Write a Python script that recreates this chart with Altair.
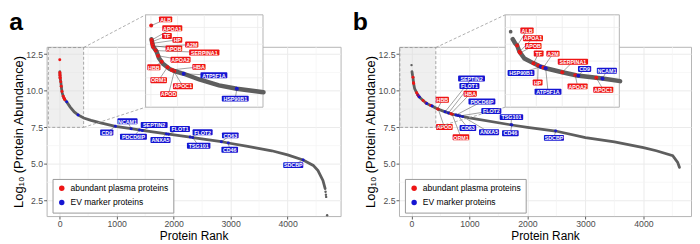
import altair as alt
import pandas as pd

FONT = "Liberation Sans"
RED = "#ee1515"
BLUE = "#1515d2"
CURVE_COLOR = "#5e5e5e"
TYPE_NAMES = {"P": "abundant plasma proteins", "E": "EV marker proteins"}
TYPE_ORDER = ["abundant plasma proteins", "EV marker proteins"]
Y_TITLE = "Log\u2081\u2080 (Protein Abundance)"

X_TICKS = [0, 1000, 2000, 3000, 4000]
X_MINOR = [500, 1500, 2500, 3500, 4500]
Y_TICKS = [2.5, 5.0, 7.5, 10.0, 12.5]
Y_MINOR = [3.75, 6.25, 8.75, 11.25]
INSET_X_GRID = [0, 100, 200, 300, 400]
INSET_Y_GRID = [8, 9, 10, 11, 12]

# ---------------- panel a ----------------
A_CURVE_RANK = [2, 8, 21, 30, 45, 70, 89, 123, 181, 255, 322, 422, 550, 700, 977, 1254, 1450, 1600,
                1913, 2290, 2335, 2838, 2959, 3300, 3722, 4000, 4272, 4450, 4533, 4620, 4659]
A_CURVE_VALUE = [11.30, 10.86, 10.57, 10.18, 9.84, 9.53, 9.39, 9.24, 8.90, 8.55, 8.35, 8.14, 7.98, 7.82,
                 7.57, 7.41, 7.29, 7.20, 7.03, 6.84, 6.80, 6.52, 6.43, 6.20, 5.90, 5.62, 5.27, 4.90,
                 4.55, 3.87, 3.31]
A_LONE_RANK = [4666, 4672, 4677, 4694]
A_LONE_VALUE = [3.10, 2.90, 2.75, 1.50]

A_PROT = ["ALB", "APOA1", "TF", "HP", "APOB", "A2M", "SERPINA1", "APOA2", "HBB", "ORM1", "HBA", "APOC1",
          "APOD", "ATP5F1A", "HSP90B1", "CD9", "NCAM1", "PDCD6IP", "SEPTIN2", "ANXA5", "FLOT1", "FLOT2",
          "TSG101", "CD63", "CD46", "SDCBP"]
A_TYPE = ["P", "P", "P", "P", "P", "P", "P", "P", "P", "P", "P", "P", "P",
          "E", "E", "E", "E", "E", "E", "E", "E", "E", "E", "E", "E", "E"]
A_RANK = [1, 3, 4, 5, 7, 9, 18, 27, 40, 62, 78, 84, 88, 123, 322, 977, 1254, 1400, 1450, 1870, 1910,
          2290, 2335, 2838, 2959, 4272]
A_VALUE = [12.11, 11.25, 11.15, 11.05, 10.92, 10.84, 10.62, 10.31, 9.95, 9.63, 9.47, 9.43, 9.40, 9.24,
           8.35, 7.57, 7.41, 7.32, 7.29, 7.05, 7.03, 6.84, 6.80, 6.52, 6.43, 5.27]

A_MAIN_LABEL = ["CD9", "NCAM1", "PDCD6IP", "SEPTIN2", "ANXA5", "FLOT1", "FLOT2", "TSG101", "CD63", "CD46", "SDCBP"]
A_MAIN_LX = [826, 1190, 1294, 1658, 1769, 2110, 2508, 2439, 2994, 2984, 4099]
A_MAIN_LY = [7.15, 7.91, 6.86, 7.66, 6.63, 7.39, 7.16, 6.24, 6.95, 5.97, 4.92]

A_INSET_LABEL = ["ALB", "APOA1", "TF", "HP", "APOB", "A2M", "SERPINA1", "APOA2", "HBB", "HBA", "ORM1",
                 "APOC1", "APOD", "ATP5F1A", "HSP90B1"]
A_INSET_LX = [55, 80, 60, 99, 86, 153, 200, 111, 11, 180, 29, 120, 66, 236, 316]
A_INSET_LY = [12.48, 11.95, 11.49, 11.26, 10.75, 10.98, 10.51, 10.08, 9.63, 9.65, 8.86, 8.50, 8.03, 9.15, 7.76]

# ---------------- panel b ----------------
B_CURVE_RANK = [9, 18, 26, 35, 54, 90, 117, 136, 200, 257, 331, 355, 423, 580, 700, 882, 1000, 1730,
                2000, 2486, 3000, 3500, 4000, 4222, 4505, 4590, 4620]
B_CURVE_VALUE = [11.30, 11.06, 10.92, 10.55, 10.15, 9.86, 9.66, 9.57, 9.33, 9.14, 9.00, 8.96, 8.80, 8.56,
                 8.40, 8.24, 8.15, 7.66, 7.50, 7.25, 6.80, 6.50, 6.12, 5.90, 5.56, 5.11, 4.77]
B_LONE_RANK = [1]
B_LONE_VALUE = [11.75]

B_PROT = ["ALB", "APOA1", "APOB", "TF", "HP", "HSP90B1", "A2M", "ATP5F1A", "SERPINA1", "APOA2", "CD9",
          "APOC1", "NCAM1", "HBB", "APOD", "SEPTIN2", "FLOT1", "HBA", "ORM1", "PDCD6IP", "CD63", "FLOT2",
          "ANXA5", "TSG101", "CD46", "SDCBP"]
B_TYPE = ["P", "P", "P", "P", "P", "E", "P", "E", "P", "P", "E", "P", "E", "P", "P", "E", "E", "P", "P",
          "E", "E", "E", "E", "E", "E", "E"]
B_RANK = [26, 35, 38, 89, 107, 117, 127, 136, 200, 250, 262, 331, 355, 450, 462, 580, 638, 680, 700, 768,
          800, 836, 882, 1718, 1730, 2486]
B_VALUE = [10.92, 10.55, 10.49, 9.87, 9.73, 9.66, 9.61, 9.57, 9.33, 9.16, 9.13, 9.00, 8.96, 8.76, 8.74,
           8.56, 8.48, 8.43, 8.40, 8.34, 8.31, 8.28, 8.24, 7.67, 7.66, 7.25]

B_MAIN_LABEL = ["SEPTIN2", "FLOT1", "HBA", "HBB", "PDCD6IP", "FLOT2", "APOD", "CD63", "ORM1", "ANXA5",
                "TSG101", "CD46", "SDCBP"]
B_MAIN_LX = [1036, 999, 1013, 532, 1215, 1377, 567, 973, 853, 1338, 1724, 1705, 2457]
B_MAIN_LY = [10.83, 10.32, 9.80, 9.38, 9.26, 8.62, 7.52, 7.45, 6.82, 7.17, 8.20, 7.10, 6.78]

B_INSET_LABEL = ["ALB", "APOA1", "APOB", "TF", "A2M", "HSP90B1", "HP", "ATP5F1A", "SERPINA1", "CD9",
                 "APOA2", "NCAM1", "APOC1"]
B_INSET_LX = [64, 87, 88, 109, 164, 41, 105, 145, 241, 286, 259, 372, 358]
B_INSET_LY = [11.82, 11.36, 10.89, 10.45, 10.44, 9.29, 8.72, 8.17, 9.96, 9.53, 8.49, 9.42, 8.29]

# zoom window (data units) and inset domain
ZOOM_X = [-200, 420]
ZOOM_Y = [7.5, 12.95]
INSET_XDOM = [-20, 420]
INSET_YDOM = [7.25, 12.75]

CSCALE = alt.Scale(domain=TYPE_ORDER, range=[RED, BLUE])

AX_X = alt.Axis(values=X_TICKS, grid=True, gridColor="#ebebeb", domain=False, tickSize=3,
                tickColor="#333333", tickWidth=0.8, labelColor="#4d4d4d", labelFont=FONT,
                labelFontSize=8.8, labelPadding=0.5, titleFont=FONT, titleFontSize=12,
                titleFontWeight="normal", titleColor="black", titlePadding=2.5, format="d")
AX_Y = alt.Axis(values=Y_TICKS, grid=True, gridColor="#ebebeb", domain=False, tickSize=3,
                tickColor="#333333", tickWidth=0.8, labelColor="#4d4d4d", labelFont=FONT,
                labelFontSize=8.8, labelPadding=1, titleFont=FONT, titleFontSize=13,
                titleFontWeight="normal", titleColor="black", titlePadding=0.5, format=".1f")

LABEL_CHAR_W = 3.45
LABEL_PAD_W = 3.0
LABEL_HALF_H = 3.0


def label_layers(lab, XF, YF, kx, ky):
    hw = f"(length(datum.name)*{LABEL_CHAR_W}+{LABEL_PAD_W})/2"
    base = alt.Chart(lab)
    leaders = base.mark_rule(color="#444444", strokeWidth=0.5).encode(
        x=XF("rank"), y=YF("value"), x2=alt.X2("lx:Q"), y2=alt.Y2("ly:Q"))
    rects = base.transform_calculate(
        bx1=f"datum.lx - {hw}*{kx}", bx2=f"datum.lx + {hw}*{kx}",
        by1=f"datum.ly - {LABEL_HALF_H}*{ky}", by2=f"datum.ly + {LABEL_HALF_H}*{ky}",
    ).mark_rect(cornerRadius=0.8).encode(
        x=XF("bx1"), x2=alt.X2("bx2:Q"), y=YF("by1"), y2=alt.Y2("by2:Q"),
        fill=alt.Fill("type:N", scale=CSCALE, legend=None))
    texts = base.mark_text(color="white", fontSize=5.4, fontWeight="bold", font=FONT,
                           align="center", baseline="middle", dy=0.3).encode(
        x=XF("lx"), y=YF("ly"), text="name:N")
    return [leaders, rects, texts]


def make_panel(cfg):
    W, H = cfg["W"], cfg["H"]
    xd, yd = cfg["xdom"], cfg["ydom"]
    ipx, ipy = cfg["ipx"], cfg["ipy"]
    sx = alt.Scale(domain=xd, nice=False, zero=False)
    sy = alt.Scale(domain=yd, nice=False, zero=False)
    sxi = alt.Scale(domain=INSET_XDOM, range=ipx, nice=False, zero=False)
    syi = alt.Scale(domain=INSET_YDOM, range=ipy, nice=False, zero=False)
    kx = (xd[1] - xd[0]) / W
    ky = (yd[1] - yd[0]) / H
    kxi = (INSET_XDOM[1] - INSET_XDOM[0]) / (ipx[1] - ipx[0])
    kyi = (INSET_YDOM[1] - INSET_YDOM[0]) / (ipy[0] - ipy[1])

    def MX(f):
        return alt.X(f, type="quantitative", scale=sx, axis=AX_X, title="Protein Rank")

    def MY(f):
        return alt.Y(f, type="quantitative", scale=sy, axis=AX_Y, title=Y_TITLE)

    def IX(f):
        return alt.X(f, type="quantitative", scale=sxi, axis=None)

    def IY(f):
        return alt.Y(f, type="quantitative", scale=syi, axis=None)

    pts = pd.DataFrame({"name": cfg["prot"], "type": [TYPE_NAMES[t] for t in cfg["ptype"]],
                        "rank": cfg["rank"], "value": cfg["value"]})
    curve = pd.DataFrame({"rank": cfg["crank"], "value": cfg["cvalue"]})
    lone = pd.DataFrame({"rank": cfg["lrank"], "value": cfg["lvalue"]})
    lab_main = pd.DataFrame({"name": cfg["ml"], "lx": cfg["mlx"], "ly": cfg["mly"]}).merge(pts, on="name")
    lab_inset = pd.DataFrame({"name": cfg["il"], "lx": cfg["ilx"], "ly": cfg["ily"]}).merge(pts, on="name")
    inset_max = f"datum.rank <= {INSET_XDOM[1] + 5}"

    zoom = pd.DataFrame({"x1": [ZOOM_X[0]], "x2": [ZOOM_X[1]], "y1": [ZOOM_Y[0]], "y2": [ZOOM_Y[1]]})
    corner = pd.DataFrame({"x": [ZOOM_X[1]], "ytop": [ZOOM_Y[1]], "ybot": [ZOOM_Y[0]]})

    main_layers = [
        alt.Chart(pd.DataFrame({"gx": X_MINOR})).mark_rule(color="#f4f4f4", strokeWidth=0.7).encode(x=MX("gx")),
        alt.Chart(pd.DataFrame({"gy": Y_MINOR})).mark_rule(color="#f4f4f4", strokeWidth=0.7).encode(y=MY("gy")),
        alt.Chart(zoom).mark_rect(fill="#dcdcdc", fillOpacity=0.45, stroke="#909090", strokeDash=[3, 2],
                                  strokeWidth=0.8).encode(x=MX("x1"), x2=alt.X2("x2:Q"), y=MY("y1"), y2=alt.Y2("y2:Q")),
        alt.Chart(curve).mark_line(color=CURVE_COLOR, strokeWidth=2.8, strokeCap="round").encode(x=MX("rank"), y=MY("value")),
        alt.Chart(lone).mark_circle(color=CURVE_COLOR, size=6, opacity=1).encode(x=MX("rank"), y=MY("value")),
        alt.Chart(pts).mark_circle(size=9, opacity=1).encode(
            x=MX("rank"), y=MY("value"),
            color=alt.Color("type:N", scale=CSCALE, legend=alt.Legend(
                orient="none", legendX=6, legendY=133.5, title=None, direction="vertical",
                fillColor="white", strokeColor="#9a9a9a", padding=5, labelFont=FONT,
                labelFontSize=8.6, labelColor="black", symbolType="circle", symbolSize=30,
                symbolStrokeWidth=0, rowPadding=5.5, labelOffset=4.5, symbolOpacity=1))),
    ]
    main_layers += label_layers(lab_main, MX, MY, kx, ky)
    main_layers += [
        alt.Chart(corner).mark_rule(color="#9a9a9a", strokeDash=[3, 2], strokeWidth=0.8).encode(
            x=MX("x"), y=MY("ytop"), x2=alt.value(ipx[0]), y2=alt.value(ipy[1])),
        alt.Chart(corner).mark_rule(color="#9a9a9a", strokeDash=[3, 2], strokeWidth=0.8).encode(
            x=MX("x"), y=MY("ybot"), x2=alt.value(ipx[0]), y2=alt.value(ipy[0])),
        alt.Chart(pd.DataFrame({"t": [cfg["letter"]]})).mark_text(
            fontSize=25, fontWeight="bold", font=FONT, align="left", baseline="alphabetic", color="black"
        ).encode(text="t:N", x=alt.value(cfg["letter_x"]), y=alt.value(-17)),
    ]

    ibox = pd.DataFrame({"x1": [INSET_XDOM[0]], "x2": [INSET_XDOM[1]], "y1": [INSET_YDOM[0]], "y2": [INSET_YDOM[1]]})
    igx = pd.DataFrame({"gx": INSET_X_GRID, "y1": INSET_YDOM[0], "y2": INSET_YDOM[1]})
    igy = pd.DataFrame({"gy": INSET_Y_GRID, "x1": INSET_XDOM[0], "x2": INSET_XDOM[1]})
    inset_layers = [
        alt.Chart(ibox).mark_rect(fill="white", stroke="#b3b3b3", strokeWidth=1).encode(
            x=IX("x1"), x2=alt.X2("x2:Q"), y=IY("y1"), y2=alt.Y2("y2:Q")),
        alt.Chart(igx).mark_rule(color="#ececec", strokeWidth=0.8).encode(x=IX("gx"), y=IY("y1"), y2=alt.Y2("y2:Q")),
        alt.Chart(igy).mark_rule(color="#ececec", strokeWidth=0.8).encode(y=IY("gy"), x=IX("x1"), x2=alt.X2("x2:Q")),
        alt.Chart(curve).transform_filter(inset_max).mark_line(color=CURVE_COLOR, strokeWidth=4.5, strokeCap="round").encode(
            x=IX("rank"), y=IY("value")),
        alt.Chart(lone).transform_filter(inset_max).mark_circle(color=CURVE_COLOR, size=14, opacity=1).encode(
            x=IX("rank"), y=IY("value")),
        alt.Chart(pts).transform_filter(inset_max).mark_circle(size=16, opacity=1).encode(
            x=IX("rank"), y=IY("value"), fill=alt.Fill("type:N", scale=CSCALE, legend=None)),
    ]
    inset_layers += label_layers(lab_inset, IX, IY, kxi, kyi)

    main = alt.layer(*main_layers)
    inset = alt.layer(*inset_layers)
    return alt.layer(main, inset).resolve_scale(x="independent", y="independent").properties(width=W, height=H)


CFG_A = dict(W=297, H=171, xdom=[-230, 4930], ydom=[1.44, 13.0], ipx=[100, 218.6], ipy=[61, -32.3],
             prot=A_PROT, ptype=A_TYPE, rank=A_RANK, value=A_VALUE, crank=A_CURVE_RANK, cvalue=A_CURVE_VALUE,
             lrank=A_LONE_RANK, lvalue=A_LONE_VALUE, ml=A_MAIN_LABEL, mlx=A_MAIN_LX, mly=A_MAIN_LY,
             il=A_INSET_LABEL, ilx=A_INSET_LX, ily=A_INSET_LY, letter="a", letter_x=-37.7)
CFG_B = dict(W=295, H=171, xdom=[-215, 4820], ydom=[1.44, 13.0], ipx=[107.3, 222.6], ipy=[61, -32.3],
             prot=B_PROT, ptype=B_TYPE, rank=B_RANK, value=B_VALUE, crank=B_CURVE_RANK, cvalue=B_CURVE_VALUE,
             lrank=B_LONE_RANK, lvalue=B_LONE_VALUE, ml=B_MAIN_LABEL, mlx=B_MAIN_LX, mly=B_MAIN_LY,
             il=B_INSET_LABEL, ilx=B_INSET_LX, ily=B_INSET_LY, letter="b", letter_x=-46.7)

chart = alt.hconcat(make_panel(CFG_A), make_panel(CFG_B), spacing=59, bounds="flush").resolve_scale(
    color="independent").resolve_legend(color="independent").properties(
    padding={"left": 0, "right": 0, "top": 0, "bottom": 0}).configure_view(stroke="#b5b5b5", strokeWidth=1)

chart.save("out.html", embed_options={"renderer": "svg", "actions": False})
